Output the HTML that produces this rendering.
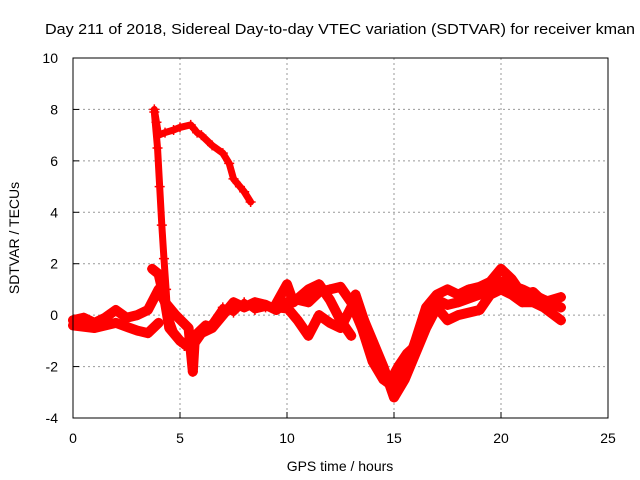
<!DOCTYPE html>
<html><head><meta charset="utf-8"><style>
body{margin:0;background:#fff}
svg{display:block;font-family:"Liberation Sans",sans-serif;font-size:14px}
</style></head><body>
<svg id="c" width="640" height="480">
<text x="45" y="34" textLength="590" lengthAdjust="spacingAndGlyphs" font-size="15">Day 211 of 2018, Sidereal Day-to-day VTEC variation (SDTVAR) for receiver kman</text>
<text x="340" y="471" text-anchor="middle">GPS time / hours</text>
<text transform="translate(19,238) rotate(-90)" text-anchor="middle">SDTVAR / TECUs</text>
<g id="grid"></g><g id="data"></g>
<rect x="73" y="58" width="535" height="360" fill="none" stroke="#000" stroke-width="1"/>
</svg>
<script>
const xTicks=[0,5,10,15,20,25];
const yTicks=[-4,-2,0,2,4,6,8,10];
const trackA=[[3.8,8.0],[3.9,7.5],[4.0,7.0],[4.3,7.1],[4.7,7.2],[5.0,7.3],[5.5,7.4],[5.8,7.1],[6.0,7.0],[6.5,6.6],[7.0,6.3],[7.3,5.9],[7.5,5.3],[7.8,5.0],[8.0,4.8],[8.3,4.4]];
const trackB=[[3.8,7.9],[3.95,6.5],[4.05,5],[4.15,3.5],[4.25,2.2],[4.35,1.0],[4.4,0.3],[4.5,-0.1],[4.8,-0.8],[5.2,-1.2],[5.5,-0.9],[6.0,-0.6],[6.5,-0.3],[7.0,0.3],[7.5,0.1],[8.0,0.5],[8.5,0.2],[9.0,0.3],[10,0.2]];
const trackC=[[0,-0.2],[0.5,-0.1],[1,-0.3],[1.5,-0.1],[2,0.2],[2.5,-0.1],[3,0],[3.5,0.2],[4,1.0],[4.3,0.5],[4.5,-0.5],[5,-1],[5.5,-1.3],[6,-0.7],[6.5,-0.5],[7,0],[7.5,0.5],[8,0.3],[8.5,0.5],[9,0.4],[9.5,0.2],[10,0.5],[10.5,0.6],[11,0.5],[11.5,0.9],[12,1.0],[12.5,1.1],[13,0.5],[13.5,-0.5],[14,-1.8],[14.5,-2.5],[15,-2.8],[15.5,-2.2],[16,-1.0],[16.5,0.3],[17,0.8],[17.5,1.0],[18,0.8],[18.5,1.0],[19,1.1],[19.5,1.3],[20,1.8],[20.5,1.4],[21,0.8],[21.5,0.9],[22,0.5],[22.8,0.7]];
const trackD=[[3.7,1.8],[4.0,1.6],[4.3,0.5],[4.8,0],[5.4,-0.5],[5.6,-2.2],[5.7,-0.8],[6.2,-0.4]];
const trackE=[[10,0.3],[10.5,-0.2],[11,-0.8],[11.5,0],[12,-0.3],[12.5,-0.5],[13,0.3],[13.5,0],[14,-1.0],[14.5,-2.0],[15,-3.2],[15.5,-2.5],[16,-1.5],[16.5,-0.5],[17,0.3],[17.5,-0.2],[18,0],[19,0.2],[19.5,0.8],[20,1.0],[20.5,0.8],[21,0.5],[21.5,0.5],[22,0.3],[22.8,-0.2]];
const trackF=[[0,-0.4],[1,-0.5],[2,-0.3],[3,-0.6],[3.5,-0.7],[4,-0.3]];
const trackG=[[9.4,0.3],[9.6,0.6],[10,1.2],[10.3,0.5],[11,1.0],[11.5,1.2],[12,0.6],[12.5,-0.2],[13,-0.8]];
const trackH=[[13.2,0.8],[13.6,-0.2],[14,-1.2],[14.4,-2.2],[14.8,-2.6],[15.2,-2.0],[15.6,-1.5],[16,-1.2],[16.5,0],[17,0.6],[17.5,0.4],[18,0.5],[19,0.8],[20,1.3],[21,1.0],[22,0.6],[22.8,0.3]];
const tracks=[trackA,trackB,trackC,trackD,trackE,trackF,trackG,trackH];
const X=v=>73+v*535/25, Y=v=>58+(10-v)*360/14;
const NS='http://www.w3.org/2000/svg';
const g=document.getElementById('grid'), d=document.getElementById('data');
function mk(tag,attrs,parent){const e=document.createElementNS(NS,tag);for(const k in attrs)e.setAttribute(k,attrs[k]);parent.appendChild(e);return e;}
xTicks.forEach(t=>{
  if(t>0&&t<25){const l=mk('line',{x1:X(t),x2:X(t),y1:58,y2:418,stroke:'#999','stroke-dasharray':'2,3'},g);
  
  }
  const tk=mk('line',{x1:X(t),x2:X(t),y1:418,y2:412,stroke:'#000'},g);
  
  
  const tx=mk('text',{x:X(t),y:443,'text-anchor':'middle'},g);tx.textContent=t;
  
  
});
yTicks.forEach(t=>{
  if(t>-4&&t<10){const l=mk('line',{x1:73,x2:608,y1:Y(t),y2:Y(t),stroke:'#999','stroke-dasharray':'2,3'},g);
  
  }
  const tk=mk('line',{x1:73,x2:79,y1:Y(t),y2:Y(t),stroke:'#000'},g);
  
  
  const tx=mk('text',{x:58,y:Y(t)+5,'text-anchor':'end'},g);tx.textContent=t;
  
  
});
tracks.forEach((tr,i)=>{
  const p=mk('polyline',{points:tr.map(q=>X(q[0])+','+Y(q[1])).join(' '),fill:'none',stroke:'#f00','stroke-width':(i<2?7:10),'stroke-linejoin':'round','stroke-linecap':'round'},d);
  
  
  tr.forEach(q=>{const x=X(q[0]),y=Y(q[1]);
    const m=mk('path',{d:`M${x-5},${y}H${x+5}M${x},${y-5}V${y+5}`,stroke:'#f00','stroke-width':1.5},d);
    
    
  });
});
</script>
</body></html>
